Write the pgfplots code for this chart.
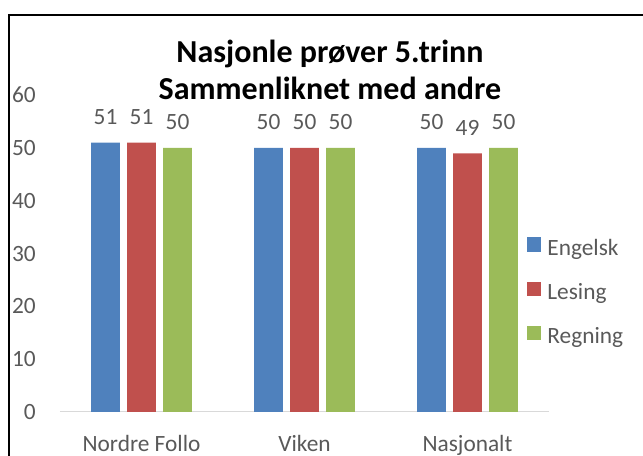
\documentclass[border=0pt]{standalone}
\usepackage{fontspec}
\setmainfont{Carlito}
\usepackage{pgfplots}
\pgfplotsset{compat=1.18}
\definecolor{cblue}{HTML}{4F81BD}
\definecolor{cred}{HTML}{C0504D}
\definecolor{cgreen}{HTML}{9BBB59}
\definecolor{txt}{HTML}{595959}
\definecolor{axl}{HTML}{D9D9D9}
\newcommand\lbl{\fontsize{17.5}{20}\selectfont}
\pgfplotsset{sq legend/.style={legend image code/.code={\fill[##1] (0pt,-3pt) rectangle (10.8pt,7.8pt);}}}
\begin{document}
\begin{tikzpicture}[x=0.75pt,y=0.75pt]
\useasboundingbox (0,0) rectangle (643,456);
\clip (0,0) rectangle (643,456);
\draw[line width=2pt] (9,441) rectangle (700,-50);
\node[anchor=base, font=\fontsize{24}{28}\selectfont\bfseries] at (330,393) {Nasjonle prøver 5.trinn};
\node[anchor=base, font=\fontsize{24}{28}\selectfont\bfseries] at (330,356) {Sammenliknet med andre};
\begin{axis}[
 at={(45pt,33pt)}, anchor=south west, scale only axis,
 width=366.75pt, height=237.6pt,
 xmin=-0.5, xmax=2.5, ymin=0, ymax=60,
 ybar=5.6pt, bar width=21.4pt,
 xtick={0,1,2}, xticklabels={Nordre Follo, Viken, Nasjonalt},
 ytick={0,10,...,60},
 axis x line*=bottom, axis y line*=left,
 x axis line style={draw=axl, line width=0.75pt, -},
 y axis line style={draw=none},
 major tick length=0pt,
 tick style={draw=none},
 /pgf/number format/assume math mode=true,
 ticklabel style={font=\lbl, text=txt},
 xticklabel style={anchor=base, yshift=-30pt},
 yticklabel style={anchor=east, inner sep=0pt, xshift=-18pt},
 nodes near coords,
 nodes near coords style={anchor=base, yshift=13.5pt, font=\lbl, text=txt},
 legend style={draw=none, fill=none, at={(axis description cs:0.955,0.552)}, anchor=north west,
   font=\lbl, text=txt, row sep=19.9pt, inner sep=0pt, outer sep=0pt, column sep=4.5pt,
   nodes={inner sep=0pt, text height=11.25pt, text depth=0pt}},
 legend cell align=left,
]
\addplot[fill=cblue, draw=none, sq legend] coordinates {(0,51) (1,50) (2,50)};
\addplot[fill=cred, draw=none, sq legend] coordinates {(0,51) (1,50) (2,49)};
\addplot[fill=cgreen, draw=none, sq legend] coordinates {(0,50) (1,50) (2,50)};
\legend{Engelsk, Lesing, Regning}
\end{axis}
\end{tikzpicture}
\end{document}
